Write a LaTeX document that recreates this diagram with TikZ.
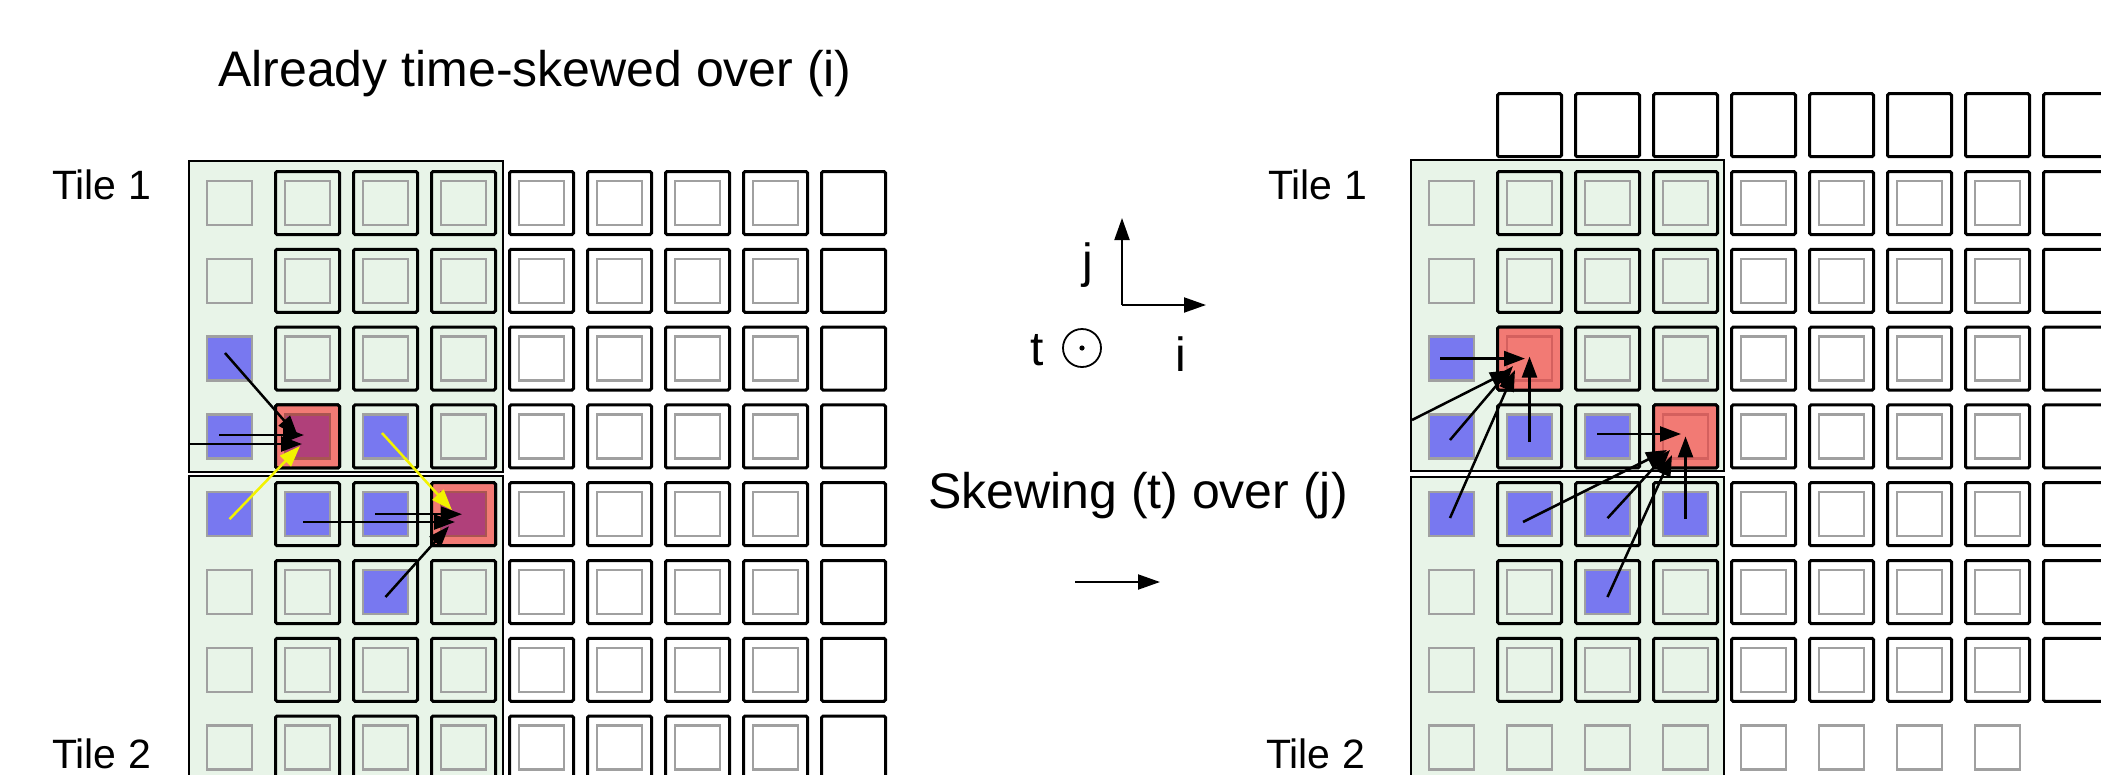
\documentclass[tikz,border=0pt]{standalone}
\usepackage{fontspec}
\setmainfont{Liberation Sans}
\usetikzlibrary{arrows.meta,calc}
\definecolor{tilegreen}{HTML}{E8F4E8}
\definecolor{cellblue}{HTML}{7878F0}
\definecolor{cellred}{HTML}{F27A74}
\definecolor{cellpurple}{HTML}{B0407A}
\definecolor{innergray}{HTML}{A0A0A0}
\definecolor{innerred}{HTML}{D4605E}
\definecolor{arrowyellow}{HTML}{F2F200}
\begin{document}
\begin{tikzpicture}[x=1pt,y=-1pt,
 outer/.style={rectangle, draw=black, line width=3pt, minimum width=64pt, minimum height=63pt, inner sep=0pt, rounded corners=1.5pt},
 innersq/.style={rectangle, draw=innergray, line width=2.4pt, minimum width=45pt, minimum height=44pt, inner sep=0pt},
 tilebox/.style={fill=tilegreen, draw=black, line width=1.8pt},
 lbl/.style={anchor=base west, inner sep=0pt, font=\fontsize{41}{49}\selectfont},
 big/.style={anchor=base west, inner sep=0pt, font=\fontsize{50}{60}\selectfont},
 axlbl/.style={anchor=base west, inner sep=0pt, font=\fontsize{48}{58}\selectfont},
 arr/.style={draw=black, line width=2.5pt, -{Triangle[length=21pt,width=15pt]}},
 yarr/.style={draw=arrowyellow, line width=2.5pt, -{Triangle[length=21pt,width=15pt]}},
 axarr/.style={draw=black, line width=2pt, -{Triangle[length=22pt,width=15pt]}},
]
\useasboundingbox (0,0) rectangle (2101,774);
\clip (0,0) rectangle (2101,774);

% ---------- texts ----------
\node[big] (title) at (218,86) {Already time-skewed over (i)};
\node[lbl] (lt1) at (52,199) {Tile 1};
\node[lbl] (lt2) at (52,768) {Tile 2};
\node[lbl] (rt1) at (1268,199) {Tile 1};
\node[lbl] (rt2) at (1266,768) {Tile 2};
\node[big] (skew) at (928,508) {Skewing (t) over (j)};
\node[axlbl] (jl) at (1082,277) {j};
\node[axlbl] (tl) at (1030,365) {t};
\node[axlbl] (il) at (1175,371) {i};

% ---------- axes ----------
\coordinate (ax0) at (1122,305);
\coordinate (axj) at (1122,218);
\coordinate (axi) at (1206,305);
\draw[axarr] (ax0) -- (axj);
\draw[axarr] (ax0) -- (axi);
\node[circle, draw=black, line width=1.8pt, minimum size=38pt, inner sep=0pt] (tdot) at (1082,348) {};
\fill[black] (tdot.center) circle (2.6);
\coordinate (sk0) at (1075,582);
\coordinate (sk1) at (1160,582);
\draw[axarr] (sk0) -- (sk1);

% ---------- LEFT grid ----------
\filldraw[tilebox] (189,161) rectangle (503,472);
\filldraw[tilebox] (189,476) rectangle (503,800);
\foreach \r in {0,...,7}
  \foreach \c in {1,...,8}
    \node[outer] (Lo\r c\c) at ({307.5+78*(\c-1)},{203+77.8*\r}) {};
\node[outer, fill=cellred] (LR3c1) at (Lo3c1.center) {};
\node[outer, fill=cellred] (LR4c3) at (Lo4c3.center) {};
\foreach \r in {0,...,7}
  \foreach \c in {0,...,7}
    \node[innersq] (Li\r c\c) at ({229.5+78*\c},{203+77.8*\r}) {};
\foreach \r/\c in {2/0,3/0,3/2,4/0,4/1,4/2,5/2}
  \node[innersq, fill=cellblue] (Lb\r c\c) at (Li\r c\c.center) {};
\node[innersq, fill=cellpurple, draw=cellred!70!black] (Lb3c1) at (Li3c1.center) {};
\node[innersq, fill=cellpurple, draw=cellred!70!black] (Lb4c3) at (Li4c3.center) {};

% left arrows
\coordinate (Ledge) at (190,444);
\draw[arr] ([shift={(-4.5,-5.6)}]Lb2c0.center) -- ([shift={(-9.5,0)}]Lo3c1.center);
\draw[arr] ([shift={(-10.5,-1.4)}]Lb3c0.center) -- ([shift={(-3.5,-1.4)}]Lo3c1.center);
\draw[arr] (Ledge) -- ([shift={(-5.5,7.6)}]Lo3c1.center);
\draw[yarr] ([shift={(0,5)}]Lb4c0.center) -- ([shift={(-7.5,9.6)}]Lo3c1.center);
\draw[yarr] ([shift={(-3.5,-3.4)}]Lb3c2.center) -- ([shift={(-11.5,-4)}]Lo4c3.center);
\draw[arr] ([shift={(-4.5,7.8)}]Lb4c1.center) -- ([shift={(-8.5,7.8)}]Lo4c3.center);
\draw[arr] ([shift={(-10.5,0)}]Lb4c2.center) -- ([shift={(-1.5,0)}]Lo4c3.center);
\draw[arr] ([shift={(0,5)}]Lb5c2.center) -- ([shift={(-14.5,12)}]Lo4c3.center);

% ---------- RIGHT grid ----------
\filldraw[tilebox] (1411,160) rectangle (1724,471);
\filldraw[tilebox] (1411,477) rectangle (1724,800);
\foreach \r in {-1,...,6}
  \foreach \c in {1,...,8}
    \node[outer] (Ro\r c\c) at ({1451.5+78*\c},{203+77.8*\r}) {};
\node[outer, fill=cellred] (RR2c1) at (Ro2c1.center) {};
\node[outer, fill=cellred] (RR3c3) at (Ro3c3.center) {};
\foreach \r in {0,...,7}
  \foreach \c in {0,...,7}
    \node[innersq] (Ri\r c\c) at ({1451.5+78*\c},{203+77.8*\r}) {};
\foreach \r/\c in {2/0,3/0,3/1,3/2,4/0,4/1,4/2,4/3,5/2}
  \node[innersq, fill=cellblue] (Rb\r c\c) at (Ri\r c\c.center) {};
\node[innersq, draw=innerred] (Rr2c1) at (Ri2c1.center) {};
\node[innersq, draw=innerred] (Rr3c3) at (Ri3c3.center) {};

% right arrows
\coordinate (Redge) at (1412,420);
\draw[arr] ([shift={(-11.5,0)}]Rb2c0.center) -- ([shift={(-4.5,0)}]Ro2c1.center);
\draw[arr] ([shift={(0,5.6)}]Rb3c1.center) -- ([shift={(0,-2)}]Ro2c1.center);
\draw[arr] ([shift={(-1.5,3.6)}]Rb3c0.center) -- ([shift={(-16.5,7.4)}]Ro2c1.center);
\draw[arr] (Redge) -- ([shift={(-18.5,11.4)}]Ro2c1.center);
\draw[arr] ([shift={(-1.5,3.8)}]Rb4c0.center) -- ([shift={(-14.5,11.4)}]Ro2c1.center);
\draw[arr] ([shift={(-10.5,-2.4)}]Rb3c2.center) -- ([shift={(-4.5,-2.4)}]Ro3c3.center);
\draw[arr] ([shift={(0,5)}]Rb4c3.center) -- ([shift={(0,0)}]Ro3c3.center);
\draw[arr] ([shift={(-6.5,7.8)}]Rb4c1.center) -- ([shift={(-18.5,13.6)}]Ro3c3.center);
\draw[arr] ([shift={(0,4)}]Rb4c2.center) -- ([shift={(-15.5,13.6)}]Ro3c3.center);
\draw[arr] ([shift={(0,5)}]Rb5c2.center) -- ([shift={(-13.5,18.6)}]Ro3c3.center);
\end{tikzpicture}
\end{document}
